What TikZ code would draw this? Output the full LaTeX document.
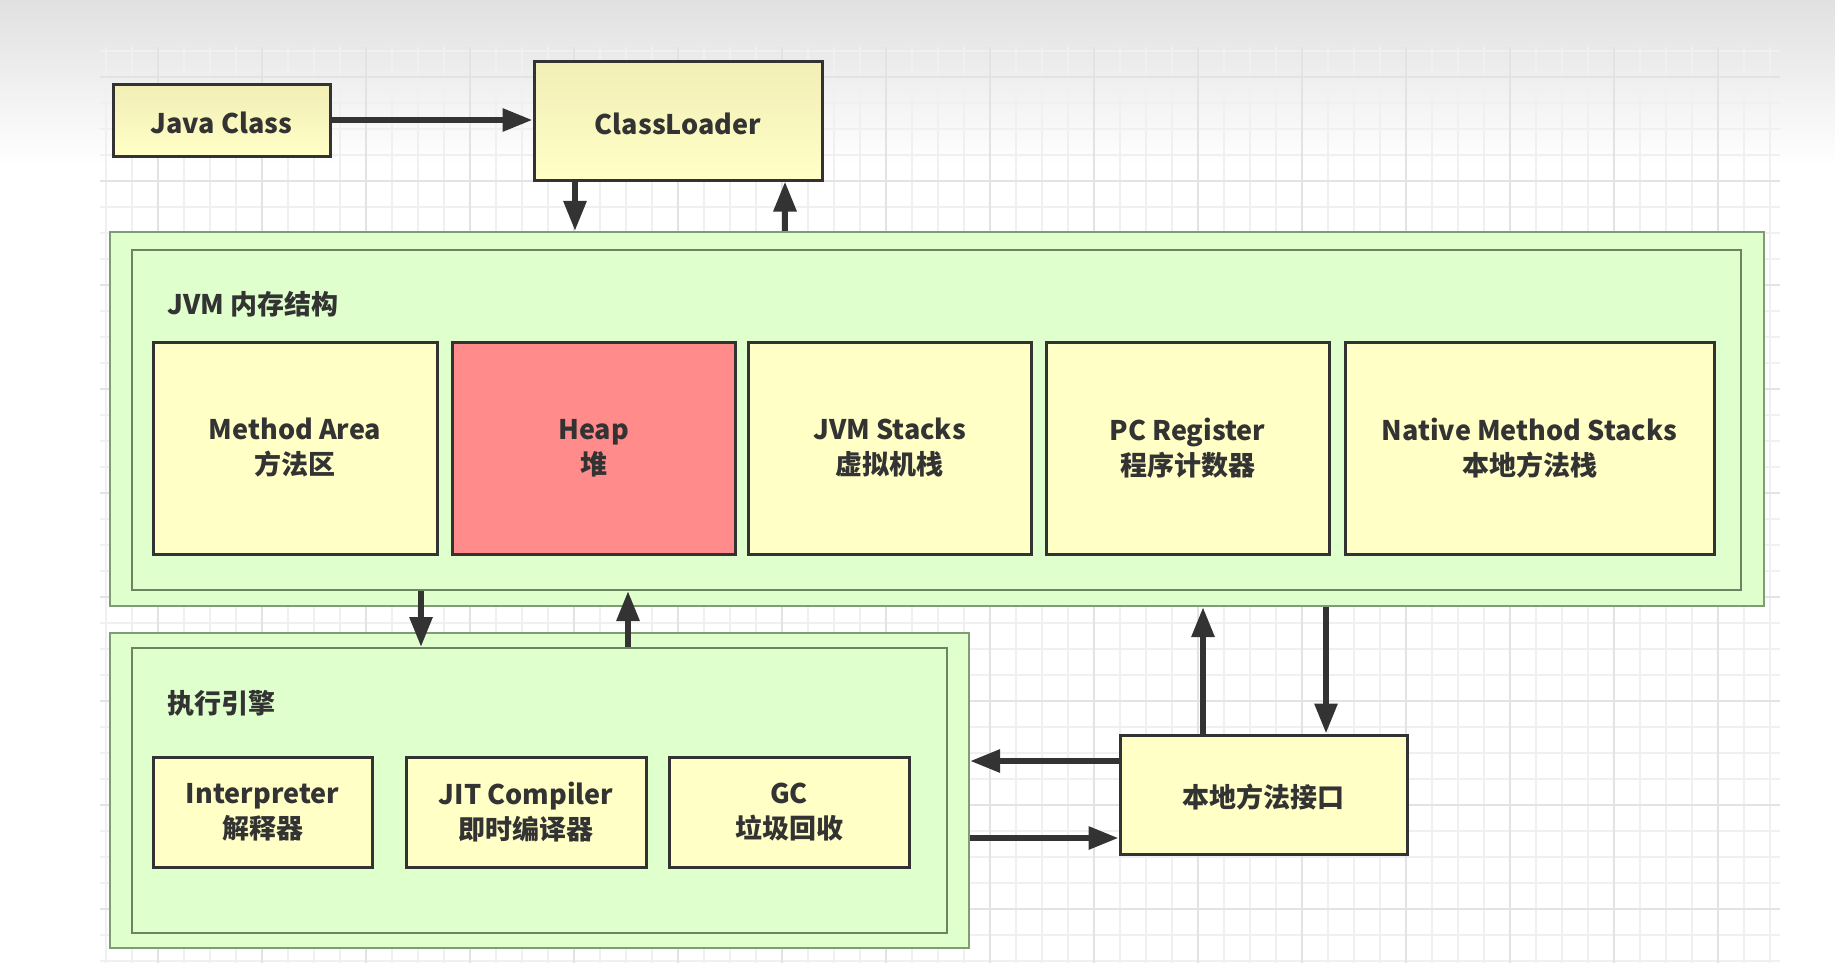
\documentclass[tikz,border=0pt]{standalone}
\usepackage{fontspec}
\setmainfont{Noto Sans CJK SC}
\usetikzlibrary{arrows.meta,calc}
\definecolor{ybox}{HTML}{FFFFC6}
\definecolor{ytop}{HTML}{F1EEB6}
\definecolor{heapred}{HTML}{FF8C8A}
\definecolor{gfill}{HTML}{DFFFCC}
\definecolor{gouter}{HTML}{7F9C74}
\definecolor{ginner}{HTML}{6A855F}
\definecolor{edge}{HTML}{333333}
\definecolor{txt}{HTML}{333333}
\definecolor{gridminor}{HTML}{F0F0F0}
\definecolor{gridmajor}{HTML}{E3E3E3}
\begin{document}
\begin{tikzpicture}[x=1pt,y=-1pt,
  lbl/.style={font=\fontsize{27}{35}\selectfont\bfseries, text=txt},
  yb/.style={draw=edge, line width=3pt, fill=ybox, inner sep=0pt, align=center,
    font=\fontsize{27}{35}\selectfont\bfseries, text=txt,
    execute at begin node={\rule{0pt}{28pt}}},
  ybg/.style={yb, top color=ytop, bottom color=ybox},
  hb/.style={yb, fill=heapred},
  gout/.style={draw=gouter, line width=2.2pt, fill=gfill, inner sep=0pt},
  gin/.style={draw=ginner, line width=2pt, fill=gfill, inner sep=0pt},
  arr/.style={draw=edge, line width=6pt, -{Triangle[length=30pt,width=22pt]}},
]
\useasboundingbox (0,0) rectangle (1835,977);
% background
\fill[white] (0,0) rectangle (1835,977);
\shade[top color=black!12, bottom color=white] (0,0) rectangle (1835,165);
% grid
\foreach \k in {4,...,68} \draw[gridminor, line width=1.3pt] ({2+26*\k},47) -- ({2+26*\k},963);
\foreach \k in {2,...,37} \draw[gridminor, line width=1.3pt] (100,{-1+26*\k}) -- (1780,{-1+26*\k});
\foreach \k in {1,...,16} \draw[gridmajor, line width=1.5pt] ({54+104*\k},47) -- ({54+104*\k},963);
\foreach \k in {0,...,8} \draw[gridmajor, line width=1.5pt] (100,{77+104*\k}) -- (1780,{77+104*\k});

% top row
\node[ybg, minimum width=217pt, minimum height=72pt] (java) at (221.5,120) {Java Class};
\node[ybg, minimum width=288pt, minimum height=119pt] (loader) at (678,120.5) {ClassLoader};

% JVM memory structure
\node[gout, minimum width=1654pt, minimum height=374pt] (jvmout) at (937,419) {};
\node[gin, minimum width=1609pt, minimum height=340pt] (jvmin) at (936.5,420) {};
\node[lbl, anchor=west, inner sep=0pt] (jvmlbl) at (167,304) {JVM 内存结构};
\node[yb, minimum width=284pt, minimum height=212pt] (method) at (295,448) {Method Area\\方法区};
\node[hb, minimum width=283pt, minimum height=212pt] (heap) at (593.5,448) {Heap\\堆};
\node[yb, minimum width=283pt, minimum height=212pt] (stacks) at (889.5,448) {JVM Stacks\\虚拟机栈};
\node[yb, minimum width=283pt, minimum height=212pt] (pc) at (1187.5,448) {PC Register\\程序计数器};
\node[yb, minimum width=369pt, minimum height=212pt] (native) at (1529.5,448) {Native Method Stacks\\本地方法栈};

% execution engine
\node[gout, minimum width=859pt, minimum height=315pt] (exout) at (539.5,790.5) {};
\node[gin, minimum width=815pt, minimum height=285pt] (exin) at (539.5,790.5) {};
\node[lbl, anchor=west, inner sep=0pt] (exlbl) at (167,703) {执行引擎};
\node[yb, minimum width=219pt, minimum height=110pt] (interp) at (262.5,812) {Interpreter\\解释器};
\node[yb, minimum width=240pt, minimum height=110pt] (jit) at (526,812) {JIT Compiler\\即时编译器};
\node[yb, minimum width=240pt, minimum height=110pt] (gc) at (789,812) {GC\\垃圾回收};

% native interface
\node[yb, minimum width=287pt, minimum height=119pt] (jni) at (1263.5,794.5) {本地方法接口};

% x / y helper coordinates
\coordinate (xa) at (575,0);
\coordinate (xb) at (785,0);
\coordinate (xc) at (421,0);
\coordinate (xd) at (628,0);
\coordinate (xe) at (1203,0);
\coordinate (xf) at (1326,0);
\coordinate (ya) at (0,761);
\coordinate (yb) at (0,838);

% connectors
\draw[arr] (java.east) -- (loader.west |- java.east);
\draw[arr] (loader.south -| xa) -- (jvmout.north -| xa);
\draw[arr] (jvmout.north -| xb) -- (loader.south -| xb);
\draw[arr] (jvmin.south -| xc) -- (exin.north -| xc);
\draw[arr] (exin.north -| xd) -- (jvmin.south -| xd);
\draw[arr] (jni.north -| xe) -- (jvmout.south -| xe);
\draw[arr] (jvmout.south -| xf) -- (jni.north -| xf);
\draw[arr] (jni.west |- ya) -- (exout.east |- ya);
\draw[arr] (exout.east |- yb) -- (jni.west |- yb);
\end{tikzpicture}
\end{document}
